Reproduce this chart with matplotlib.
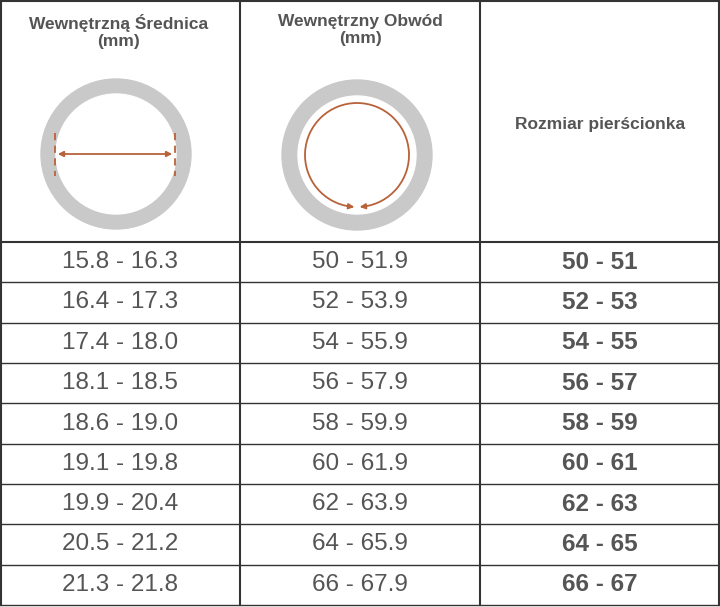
import matplotlib.pyplot as plt
from matplotlib.patches import Circle, Arc, FancyArrowPatch
import numpy as np

diameters = ["15.8 - 16.3", "16.4 - 17.3", "17.4 - 18.0", "18.1 - 18.5", "18.6 - 19.0",
             "19.1 - 19.8", "19.9 - 20.4", "20.5 - 21.2", "21.3 - 21.8"]
circumferences = ["50 - 51.9", "52 - 53.9", "54 - 55.9", "56 - 57.9", "58 - 59.9",
                  "60 - 61.9", "62 - 63.9", "64 - 65.9", "66 - 67.9"]
sizes = ["50 - 51", "52 - 53", "54 - 55", "56 - 57", "58 - 59",
         "60 - 61", "62 - 63", "64 - 65", "66 - 67"]
headers = ["Wewnętrzną Średnica\n(mm)", "Wewnętrzny Obwód\n(mm)", "Rozmiar pierścionka"]

plt.rcParams['font.family'] = ['Liberation Sans', 'DejaVu Sans']

W, H = 720, 607
fig = plt.figure(figsize=(7.2, 6.07), dpi=100)
ax = fig.add_axes([0, 0, 1, 1])
ax.set_xlim(0, W)
ax.set_ylim(H, 0)
ax.axis('off')

txt = '#555555'
ring = '#c9c9c9'
brown = '#b8623a'
cols = [0, 240, 480, 720]
head_bot = 242
row_h = (605 - head_bot) / len(sizes)

# grid
for x in cols:
    ax.plot([x + (1 if x == 0 else -1 if x == 720 else 0)] * 2, [1, 605], color='#333333', lw=1.5)
ax.plot([0, 720], [1, 1], color='#333333', lw=1.5)
for i in range(len(sizes) + 1):
    y = head_bot + i * row_h
    ax.plot([0, 720], [y, y], color='#333333', lw=1.5 if i == 0 else 1)

# headers
ax.text(119, 14, headers[0], ha='center', va='top', fontsize=12.5, fontweight='bold', color=txt, linespacing=1.2)
ax.text(360, 14, headers[1], ha='center', va='top', fontsize=12.5, fontweight='bold', color=txt, linespacing=1.2)
ax.text(600, 125, headers[2], ha='center', va='center', fontsize=12.5, fontweight='bold', color=txt)

# icon 1: diameter
c1 = (116, 154)
ax.add_patch(Circle(c1, 75, color=ring))
ax.add_patch(Circle(c1, 60, color='white'))
for x in (c1[0] - 61, c1[0] + 59):
    ax.plot([x, x], [133, 176], color=brown, lw=1.3, ls=(0, (4, 3)))
ax.add_patch(FancyArrowPatch((c1[0] - 61, 154), (c1[0] + 59, 154), arrowstyle='<|-|>',
                             mutation_scale=8, color=brown, lw=1.3))

# icon 2: circumference
c2 = (357, 155)
ax.add_patch(Circle(c2, 75, color=ring))
ax.add_patch(Circle(c2, 59, color='white'))
ax.add_patch(Arc(c2, 104, 104, theta1=97, theta2=83, color=brown, lw=1.3))
for sgn in (-1, 1):
    a = np.deg2rad(90 + sgn * 9)
    p = (c2[0] + 52 * np.cos(a), c2[1] + 52 * np.sin(a))
    q = (c2[0] + 52 * np.cos(np.deg2rad(90 + sgn * 3)), c2[1] + 52 * np.sin(np.deg2rad(90 + sgn * 3)))
    ax.add_patch(FancyArrowPatch(p, q, arrowstyle='-|>', mutation_scale=8, color=brown, lw=1.3))

# rows
for i in range(len(sizes)):
    y = head_bot + (i + 0.5) * row_h
    ax.text(120, y, diameters[i], ha='center', va='center', fontsize=17.5, color=txt)
    ax.text(360, y, circumferences[i], ha='center', va='center', fontsize=17.5, color=txt)
    ax.text(600, y, sizes[i], ha='center', va='center', fontsize=17.5, fontweight='bold', color=txt)

fig.savefig('out.png', dpi=100)
